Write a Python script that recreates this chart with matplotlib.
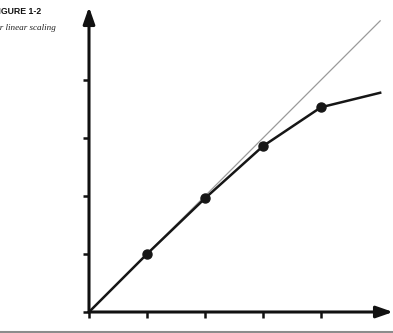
#!/usr/bin/env python3
import matplotlib as mpl
mpl.use('Agg')
import matplotlib.pyplot as plt
from matplotlib.lines import Line2D

# measured points (near linear scaling) and the ideal y = x reference
x_pts = [0, 1, 2, 3, 4, 5.02]
y_pts = [0, 1.0, 1.96, 2.86, 3.53, 3.78]
marker_x = [1, 2, 3, 4]
marker_y = [1.0, 1.96, 2.86, 3.53]
ideal_x = [0, 5.02]
ideal_y = [0, 5.02]
ticks = [0, 1, 2, 3, 4]

W, H = 393, 333
fig = plt.figure(figsize=(W / 100, H / 100), dpi=100)

ox, oy, unit = 89, 312, 58.0
xmax = (W - ox) / unit
ymax = (oy - 7) / unit
ax = fig.add_axes([ox / W, (H - oy) / H, (W - ox) / W, (oy - 7) / H])
ax.set_xlim(0, xmax)
ax.set_ylim(0, ymax)
for s in ax.spines.values():
    s.set_visible(False)
ax.patch.set_alpha(0)

# axes with arrowheads
ax.annotate('', xy=(xmax, 0), xytext=(0, 0),
            arrowprops=dict(arrowstyle='-|>,head_length=1.0,head_width=0.35',
                            lw=2.2, color='#111111', shrinkA=0, shrinkB=0),
            annotation_clip=False)
ax.annotate('', xy=(0, ymax), xytext=(0, 0),
            arrowprops=dict(arrowstyle='-|>,head_length=1.0,head_width=0.35',
                            lw=2.2, color='#111111', shrinkA=0, shrinkB=0),
            annotation_clip=False)

ax.set_xticks(ticks)
ax.set_yticks(ticks)
ax.set_xticklabels([])
ax.set_yticklabels([])
ax.tick_params(direction='out', length=4, width=1.8, color='#111111')

ax.plot(ideal_x, ideal_y, color='#9a9a9a', lw=0.9, zorder=1)
ax.plot(x_pts, y_pts, color='#161616', lw=1.8, zorder=2, clip_on=False)
ax.plot(marker_x, marker_y, 'o', color='#161616', ms=6.5, zorder=3)

# caption block, cropped at the left edge like the source page
fig.text(41 / W, 1 - 12 / H, 'FIGURE 1-2', ha='right', va='center',
         fontsize=6.3, fontweight='bold', family='Liberation Sans', color='#111111')
fig.text(56 / W, 1 - 28 / H, 'Near linear scaling', ha='right', va='center',
         fontsize=6.6, style='italic', family='Liberation Serif', color='#222222')

fig.add_artist(Line2D([0, 1], [1 - 332 / H, 1 - 332 / H], transform=fig.transFigure,
                      color='#8c8c8c', lw=1.5))

fig.savefig('out.png', dpi=100)
